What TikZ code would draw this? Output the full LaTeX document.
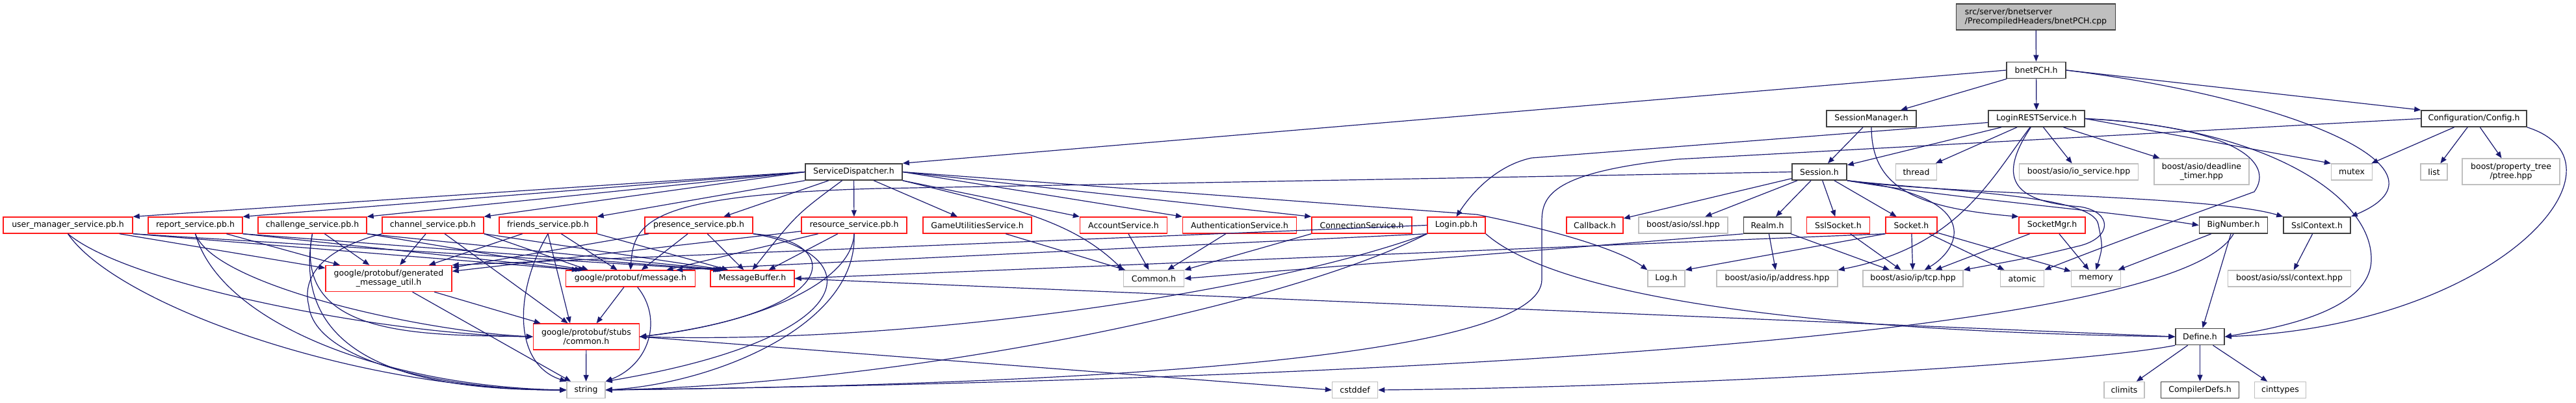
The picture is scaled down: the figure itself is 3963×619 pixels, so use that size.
\documentclass[tikz,border=0pt]{standalone}
\usepackage{fontspec}
\setmainfont{DejaVu Sans}
\usetikzlibrary{arrows.meta}
\definecolor{edgeblue}{HTML}{191970}
\definecolor{boxgray}{HTML}{BFBFBF}
\definecolor{boxblack}{HTML}{404040}
\definecolor{boxred}{HTML}{FF1A1A}
\newcommand\mknode[6]{\node[#1,minimum width=#4pt,minimum height=#5pt] (#2) at (#3) {#6};}
\begin{document}
\begin{tikzpicture}[x=1pt,y=-1pt,
  base/.style={rectangle, inner sep=0pt, fill=white, font=\fontsize{12.5}{14.3}\selectfont, align=center},
  nblack/.style={base, draw=boxblack, line width=1.6pt},
  nred/.style={base, draw=boxred, line width=1.4pt},
  ngray/.style={base, draw=boxgray, line width=1.4pt},
  nroot/.style={base, draw=boxblack, fill=boxgray, line width=1.6pt, align=left},
  e/.style={draw=edgeblue, line width=1.2pt, -{Triangle[length=10pt,width=8pt]}}]
\useasboundingbox (0,0) rectangle (3963,619);
% ---------- nodes ----------
\mknode{nroot}{cpp}{3132,26}{245}{40}{src/server/bnetserver\\/PrecompiledHeaders/bnetPCH.cpp}
\mknode{nblack}{pch}{3132.5,108}{91}{25}{bnetPCH.h}
\mknode{nblack}{smgr}{2879,182.5}{138}{25}{SessionManager.h}
\mknode{nblack}{lrest}{3133,182.5}{148}{25}{LoginRESTService.h}
\mknode{nblack}{cfg}{3806,182.5}{162}{25}{Configuration/Config.h}
\mknode{nblack}{sd}{1313.5,264.5}{149}{25}{ServiceDispatcher.h}
\mknode{nblack}{sess}{2799,264.5}{84}{25}{Session.h}
\mknode{ngray}{thread}{2948,264.5}{63}{25}{thread}
\mknode{ngray}{iosvc}{3198,264.5}{183}{25}{boost/asio/io\_service.hpp}
\mknode{ngray}{dtimer}{3387,264}{146}{40}{boost/asio/deadline\\\_timer.hpp}
\mknode{ngray}{mutex}{3618,264.5}{63}{25}{mutex}
\mknode{ngray}{list}{3744.5,264.5}{41}{25}{list}
\mknode{ngray}{ptree}{3863,264}{150}{40}{boost/property\_tree\\/ptree.hpp}
% row E
\mknode{nred}{um}{104.5,346.5}{199}{25}{user\_manager\_service.pb.h}
\mknode{nred}{rep}{300.5,346.5}{145}{25}{report\_service.pb.h}
\mknode{nred}{chal}{480.5,346.5}{167}{25}{challenge\_service.pb.h}
\mknode{nred}{chan}{666,346.5}{156}{25}{channel\_service.pb.h}
\mknode{nred}{fri}{843,346.5}{150}{25}{friends\_service.pb.h}
\mknode{nred}{pres}{1075,346.5}{166}{25}{presence\_service.pb.h}
\mknode{nred}{res}{1314,346.5}{162}{25}{resource\_service.pb.h}
\mknode{nred}{gus}{1503.5,346.5}{167}{25}{GameUtilitiesService.h}
\mknode{nred}{acc}{1728.5,346.5}{134}{25}{AccountService.h}
\mknode{nred}{auth}{1907,346.5}{175}{25}{AuthenticationService.h}
\mknode{nred}{conn}{2095,346.5}{154}{25}{ConnectionService.h}
\mknode{nred}{login}{2240.5,346.5}{89}{25}{Login.pb.h}
\mknode{nred}{cb}{2453.5,346.5}{87}{25}{Callback.h}
\mknode{ngray}{sslhpp}{2589.5,346.5}{137}{25}{boost/asio/ssl.hpp}
\mknode{nblack}{realm}{2719,346.5}{73}{25}{Realm.h}
\mknode{nred}{sslsock}{2828,346.5}{97}{25}{SslSocket.h}
\mknode{nred}{sock}{2940.5,346.5}{79}{25}{Socket.h}
\mknode{nred}{sockmgr}{3157,346.5}{102}{25}{SocketMgr.h}
\mknode{nblack}{bn}{3436,346.5}{105}{25}{BigNumber.h}
\mknode{nblack}{sslctx}{3564.5,346.5}{103}{25}{SslContext.h}
% row F
\mknode{nred}{gen}{598,428.5}{194}{40}{google/protobuf/generated\\\_message\_util.h}
\mknode{nred}{msg}{970,428.5}{199}{25}{google/protobuf/message.h}
\mknode{nred}{mbuf}{1157.5,428.5}{129}{25}{MessageBuffer.h}
\mknode{ngray}{common}{1775,428.5}{93}{25}{Common.h}
\mknode{ngray}{log}{2563.5,428.5}{57}{25}{Log.h}
\mknode{ngray}{addr}{2734,428.5}{186}{25}{boost/asio/ip/address.hpp}
\mknode{ngray}{tcp}{2943,428.5}{154}{25}{boost/asio/ip/tcp.hpp}
\mknode{ngray}{atomic}{3111,428.5}{67}{25}{atomic}
\mknode{ngray}{memory}{3224.5,428.5}{76}{25}{memory}
\mknode{ngray}{ctx}{3522,428.5}{189}{25}{boost/asio/ssl/context.hpp}
% row G
\mknode{nred}{stubs}{902,518}{163}{40}{google/protobuf/stubs\\/common.h}
\mknode{nblack}{define}{3384.5,518}{75}{25}{Define.h}
% row H
\mknode{ngray}{string}{901.5,600}{59}{25}{string}
\mknode{ngray}{cstddef}{2084.5,600}{70}{25}{cstddef}
\mknode{ngray}{climits}{3268,600}{62}{25}{climits}
\mknode{nblack}{cdefs}{3384.5,600}{120}{25}{CompilerDefs.h}
\mknode{ngray}{cinttypes}{3508,600}{79}{25}{cinttypes}
% ---------- edges ----------
\draw[e] (cpp) -- (pch);
% bnetPCH.h
\draw[e] (pch.west) -- (sd.north east);
\draw[e] (pch) -- (smgr);
\draw[e] (pch) -- (lrest);
\draw[e] (pch.east) -- (cfg.north west);
\draw[e] (pch.east) .. controls (3520,150) and (3790,260) .. (sslctx.north east);
% SessionManager.h
\draw[e] (smgr) -- (sess);
\draw[e] (smgr.south) .. controls (2879,290) and (2950,320) .. (sockmgr.north west);
% LoginRESTService.h
\draw[e] ([yshift=-6pt]lrest.west) -- (2356,243) .. controls (2300,255) and (2262,300) .. (login.north);
\draw[e] (lrest) -- (sess);
\draw[e] (lrest) -- (thread);
\draw[e] (lrest) -- (iosvc);
\draw[e] (lrest) -- (dtimer);
\draw[e] (lrest.east) -- (mutex.north west);
\draw[e] (lrest.east) .. controls (3440,195) and (3500,250) .. (3468,295) .. controls (3400,320) and (3260,370) .. (atomic.north east);
\draw[e] (lrest.east) .. controls (3480,195) and (3650,300) .. (3648,400) .. controls (3646,480) and (3500,505) .. (define.east);
\draw[e] (lrest) .. controls (3060,280) and (3010,380) .. (addr.north east);
\draw[e] (lrest) .. controls (3075,270) and (3090,310) .. (3200,318) .. controls (3250,326) and (3250,365) .. (3200,378) .. controls (3130,395) .. (tcp.north east);
% Configuration/Config.h
\draw[e] (cfg.west) -- (2580,245) .. controls (2390,265) and (2372,300) .. (2372,340) -- (2372,430) .. controls (2372,540) and (1800,590) .. (string.east);
\draw[e] (cfg) -- (mutex);
\draw[e] (cfg) -- (list);
\draw[e] (cfg) -- (ptree);
\draw[e] (cfg.south east) .. controls (4060,250) and (3850,500) .. (define.east);
% ServiceDispatcher.h
\draw[e] (sd.west) -- (um.north east);
\draw[e] (sd.west) -- (rep.north east);
\draw[e] (sd.west) -- (chal.north east);
\draw[e] (sd.west) -- (chan.north east);
\draw[e] (sd.south west) -- (fri.north east);
\draw[e] (sd) -- (pres);
\draw[e] (sd) -- (res);
\draw[e] (sd) -- (gus);
\draw[e] (sd.south east) -- (acc.north west);
\draw[e] (sd.east) -- (auth.north west);
\draw[e] (sd.east) -- (conn.north west);
\draw[e] (sd.south east) .. controls (1560,320) and (1650,340) .. (common.north west);
\draw[e] (sd) .. controls (1225,330) .. (mbuf.north);
\draw[e] (sd.east) -- (2272,330) .. controls (2420,360) and (2500,390) .. (log.north west);
% Session.h
\draw[e] (sess.west) -- (1350,290) .. controls (1000,300) and (975,340) .. (msg.north);
\draw[e] (sess) -- (cb);
\draw[e] (sess) -- (sslhpp);
\draw[e] (sess) -- (realm);
\draw[e] (sess) -- (sslsock);
\draw[e] (sess) -- (sock);
\draw[e] (sess.south east) .. controls (3050,300) and (3020,380) .. ([xshift=-60pt]tcp.north east);
\draw[e] (sess.south east) .. controls (3000,295) and (3220,300) .. (3228,345) .. controls (3235,380) .. (memory.north);
\draw[e] (sess.south east) .. controls (3000,305) and (3250,325) .. (bn.west);
\draw[e] (sess.south east) .. controls (3000,300) and (3400,300) .. (sslctx.north west);
% Realm.h
\draw[e] (realm) -- (addr);
\draw[e] (realm) -- (tcp);
\draw[e] (realm.south west) -- (common.east);
% SslSocket.h, Socket.h, SocketMgr.h
\draw[e] (sslsock) -- (tcp);
\draw[e] (sock) -- (tcp);
\draw[e] (sock) -- (atomic);
\draw[e] (sock) -- (memory);
\draw[e] (sock.south west) -- (log.north east);
\draw[e] (sock.south west) -- (mbuf.east);
\draw[e] (sockmgr) -- (tcp);
\draw[e] (sockmgr) -- (memory);
% BigNumber.h, SslContext.h, Define.h
\draw[e] (bn) -- (memory);
\draw[e] (bn) -- (define);
\draw[e] (bn.south) .. controls (3360,500) and (2400,580) .. (string.east);
\draw[e] (sslctx) -- (ctx);
\draw[e] (define) -- (climits);
\draw[e] (define) -- (cdefs);
\draw[e] (define) -- (cinttypes);
\draw[e] (define.south west) .. controls (3200,560) and (2600,595) .. (cstddef.east);
% services
\draw[e] (gus) -- (common);
\draw[e] (acc) -- (common);
\draw[e] (auth) -- (common);
\draw[e] (conn.south west) -- (common.north east);
% protobuf headers
\draw[e] (um) -- (gen);
\draw[e] (um.south east) -- ([xshift=20pt]msg.north west);
\draw[e] (um.south east) -- ([xshift=15pt]mbuf.north west);
\draw[e] (um.south) .. controls (200,440) and (600,515) .. (stubs.west);
\draw[e] (um.south) .. controls (180,470) and (550,600) .. (string.west);
\draw[e] (rep) -- (gen);
\draw[e] (rep.south east) -- ([xshift=25pt]msg.north west);
\draw[e] (rep.south east) -- ([xshift=18pt]mbuf.north west);
\draw[e] (rep.south) .. controls (330,440) and (650,510) .. (stubs.west);
\draw[e] (rep.south) .. controls (340,500) and (600,595) .. (string.west);
\draw[e] (chal) -- (gen);
\draw[e] (chal.south east) -- ([xshift=30pt]msg.north west);
\draw[e] (chal.south east) -- ([xshift=21pt]mbuf.north west);
\draw[e] (chal.south) .. controls (450,520) and (650,515) .. (stubs.west);
\draw[e] (chal.south) .. controls (440,580) and (700,600) .. (string.west);
\draw[e] (chan) -- (gen);
\draw[e] (chan.south east) -- ([xshift=35pt]msg.north west);
\draw[e] (chan.south east) -- ([xshift=24pt]mbuf.north west);
\draw[e] (chan) -- (stubs);
\draw[e] (chan.south west) .. controls (490,385) and (465,430) .. (475,470) .. controls (485,560) and (700,600) .. (string.west);
\draw[e] (fri) -- (gen);
\draw[e] (fri) -- (msg);
\draw[e] (fri.south east) -- ([xshift=28pt]mbuf.north west);
\draw[e] (fri.south) -- ([xshift=-25pt]stubs.north);
\draw[e] (fri.south) .. controls (790,450) and (790,560) .. (string.north west);
\draw[e] (pres) -- (gen);
\draw[e] (pres) -- (msg);
\draw[e] (pres) -- (mbuf);
\draw[e] (pres.south east) .. controls (1300,370) and (1300,480) .. (stubs.east);
\draw[e] (pres.south east) .. controls (1340,390) and (1330,520) .. (string.north east);
\draw[e] (res) -- (gen);
\draw[e] (res) -- (msg);
\draw[e] (res) -- (mbuf);
\draw[e] (res.south) .. controls (1310,440) and (1150,500) .. (stubs.east);
\draw[e] (res.south) .. controls (1320,500) and (1100,590) .. (string.east);
\draw[e] (gen) -- (stubs);
\draw[e] (gen) -- (string);
\draw[e] (msg) -- (stubs);
\draw[e] (msg) .. controls (1020,490) and (1000,560) .. (string.north east);
\draw[e] (stubs) -- (string);
\draw[e] (stubs.east) -- (cstddef.west);
\draw[e] (mbuf.east) -- (define.west);
% Login.pb.h
\draw[e] (login.west) -- (gen.north east);
\draw[e] (login.south west) -- ([xshift=-30pt]msg.north east);
\draw[e] (login.south west) .. controls (1950,450) and (1400,530) .. (stubs.east);
\draw[e] (login.south west) .. controls (1980,470) and (1400,590) .. (string.east);
\draw[e] (login.south east) .. controls (2400,460) and (2800,510) .. (define.west);
\end{tikzpicture}
\end{document}
